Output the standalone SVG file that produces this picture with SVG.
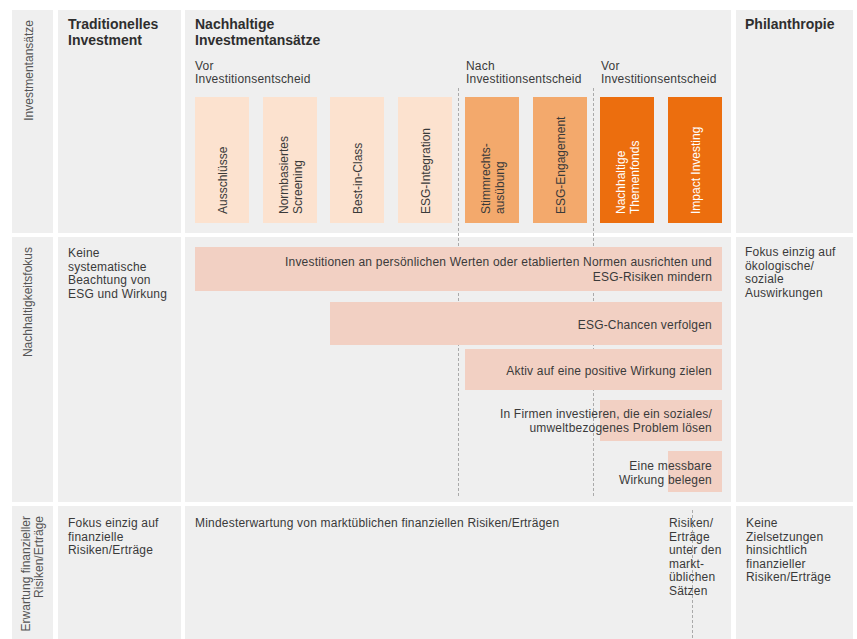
<svg xmlns="http://www.w3.org/2000/svg" width="857" height="639" viewBox="0 0 857 639">
<style>
.panel{fill:#efefef}
.t{font-family:"Liberation Sans",Arial,sans-serif;font-size:12px;fill:#3a3a3a;letter-spacing:0.2px}
.v{letter-spacing:0px}
.h{font-family:"Liberation Sans",Arial,sans-serif;font-size:14px;font-weight:bold;fill:#2e2e2e}
.lab{font-family:"Liberation Sans",Arial,sans-serif;font-size:12px;fill:#555}
.w{fill:#ffffff}
.r{text-anchor:end}
.b1{fill:#fce2cf}
.b2{fill:#f3a96c}
.b3{fill:#ec6e0e}
.bar{fill:#f2d0c3}
.dash{stroke:#aaaaaa;stroke-width:1;stroke-dasharray:3,2;fill:none}
</style>
<rect width="857" height="639" fill="#ffffff"/>
<g id="panels">
<rect class="panel" x="12" y="10" width="41" height="223"/>
<rect class="panel" x="58" y="10" width="123" height="223"/>
<rect class="panel" x="185" y="10" width="546" height="223"/>
<rect class="panel" x="736" y="10" width="117" height="223"/>
<rect class="panel" x="12" y="237" width="41" height="265"/>
<rect class="panel" x="58" y="237" width="123" height="265"/>
<rect class="panel" x="185" y="237" width="546" height="265"/>
<rect class="panel" x="736" y="237" width="117" height="265"/>
<rect class="panel" x="12" y="506" width="41" height="140"/>
<rect class="panel" x="58" y="506" width="123" height="140"/>
<rect class="panel" x="185" y="506" width="546" height="140"/>
<rect class="panel" x="736" y="506" width="117" height="140"/>
</g>
<g id="connectors">
<line class="dash" x1="458.5" y1="88" x2="458.5" y2="498"/>
<line class="dash" x1="593.5" y1="88" x2="593.5" y2="498"/>
<line class="dash" x1="692.5" y1="510" x2="692.5" y2="639"/>
</g>
<g id="row-labels">
<text class="lab r" transform="translate(33,20) rotate(-90)">Investmentansätze</text>
<text class="lab r" transform="translate(32,247) rotate(-90)">Nachhaltigkeitsfokus</text>
<text class="lab r" transform="translate(30,516) rotate(-90)"><tspan x="0" y="0">Erwartung finanzieller</tspan><tspan x="0" y="13">Risiken/Erträge</tspan></text>
</g>
<g id="headers">
<text class="h"><tspan x="68" y="29">Traditionelles</tspan><tspan x="68" y="45">Investment</tspan></text>
<text class="h"><tspan x="195" y="29">Nachhaltige</tspan><tspan x="195" y="45">Investmentansätze</tspan></text>
<text class="h" x="745" y="29">Philanthropie</text>
<text class="t"><tspan x="195" y="70">Vor</tspan><tspan x="195" y="83">Investitionsentscheid</tspan></text>
<text class="t"><tspan x="466" y="70">Nach</tspan><tspan x="466" y="83">Investitionsentscheid</tspan></text>
<text class="t"><tspan x="601" y="70">Vor</tspan><tspan x="601" y="83">Investitionsentscheid</tspan></text>
</g>
<g id="node-ausschluesse">
<rect class="b1" x="195" y="97" width="54" height="126"/>
<text class="t v" transform="translate(226.5,214) rotate(-90)">Ausschlüsse</text>
</g>
<g id="node-normbasiert">
<rect class="b1" x="263" y="97" width="54" height="126"/>
<text class="t v" transform="translate(287.5,214) rotate(-90)"><tspan x="0" y="0">Normbasiertes</tspan><tspan x="0" y="14">Screening</tspan></text>
</g>
<g id="node-bestinclass">
<rect class="b1" x="330" y="97" width="54" height="126"/>
<text class="t v" transform="translate(361.5,214) rotate(-90)">Best-in-Class</text>
</g>
<g id="node-esgintegration">
<rect class="b1" x="398" y="97" width="54" height="126"/>
<text class="t v" transform="translate(429.5,214) rotate(-90)">ESG-Integration</text>
</g>
<g id="node-stimmrecht">
<rect class="b2" x="465" y="97" width="54" height="126"/>
<text class="t v" transform="translate(489.5,214) rotate(-90)"><tspan x="0" y="0">Stimmrechts-</tspan><tspan x="0" y="14">ausübung</tspan></text>
</g>
<g id="node-esgengagement">
<rect class="b2" x="533" y="97" width="54" height="126"/>
<text class="t v" transform="translate(564.5,214) rotate(-90)">ESG-Engagement</text>
</g>
<g id="node-themenfonds">
<rect class="b3" x="600" y="97" width="54" height="126"/>
<text class="t v w" transform="translate(624.5,214) rotate(-90)"><tspan x="0" y="0">Nachhaltige</tspan><tspan x="0" y="14">Themenfonds</tspan></text>
</g>
<g id="node-impact">
<rect class="b3" x="668" y="97" width="54" height="126"/>
<text class="t v w" transform="translate(699.5,214) rotate(-90)">Impact Investing</text>
</g>
<g id="row2-text">
<text class="t"><tspan x="68" y="257">Keine</tspan><tspan x="68" y="270.5">systematische</tspan><tspan x="68" y="284">Beachtung von</tspan><tspan x="68" y="297.5">ESG und Wirkung</tspan></text>
<text class="t"><tspan x="745" y="256">Fokus einzig auf</tspan><tspan x="745" y="269.5">ökologische/</tspan><tspan x="745" y="283">soziale</tspan><tspan x="745" y="296.5">Auswirkungen</tspan></text>
</g>
<g id="bar-normen">
<rect class="bar" x="195" y="247" width="527" height="44"/>
<text class="t r"><tspan x="712" y="265.5">Investitionen an persönlichen Werten oder etablierten Normen ausrichten und</tspan><tspan x="712" y="280.5">ESG-Risiken mindern</tspan></text>
</g>
<g id="bar-chancen">
<rect class="bar" x="330" y="302" width="392" height="43"/>
<text class="t r" x="712" y="328.5">ESG-Chancen verfolgen</text>
</g>
<g id="bar-aktiv">
<rect class="bar" x="465" y="349" width="257" height="41"/>
<text class="t r" x="712" y="375">Aktiv auf eine positive Wirkung zielen</text>
</g>
<g id="bar-firmen">
<rect class="bar" x="600" y="400" width="122" height="41"/>
<text class="t r"><tspan x="712" y="417.5">In Firmen investieren, die ein soziales/</tspan><tspan x="712" y="432">umweltbezogenes Problem lösen</tspan></text>
</g>
<g id="bar-messbar">
<rect class="bar" x="668" y="451" width="54" height="41"/>
<text class="t r"><tspan x="712" y="470">Eine messbare</tspan><tspan x="712" y="483.5">Wirkung belegen</tspan></text>
</g>
<g id="row3-text">
<text class="t"><tspan x="68" y="527">Fokus einzig auf</tspan><tspan x="68" y="540.5">finanzielle</tspan><tspan x="68" y="554">Risiken/Erträge</tspan></text>
<text class="t" x="195" y="527">Mindesterwartung von marktüblichen finanziellen Risiken/Erträgen</text>
<text class="t"><tspan x="669" y="527">Risiken/</tspan><tspan x="669" y="540.5">Erträge</tspan><tspan x="669" y="554">unter den</tspan><tspan x="669" y="567.5">markt-</tspan><tspan x="669" y="581">üblichen</tspan><tspan x="669" y="594.5">Sätzen</tspan></text>
<text class="t"><tspan x="746" y="527">Keine</tspan><tspan x="746" y="540.5">Zielsetzungen</tspan><tspan x="746" y="554">hinsichtlich</tspan><tspan x="746" y="567.5">finanzieller</tspan><tspan x="746" y="581">Risiken/Erträge</tspan></text>
</g>
</svg>
